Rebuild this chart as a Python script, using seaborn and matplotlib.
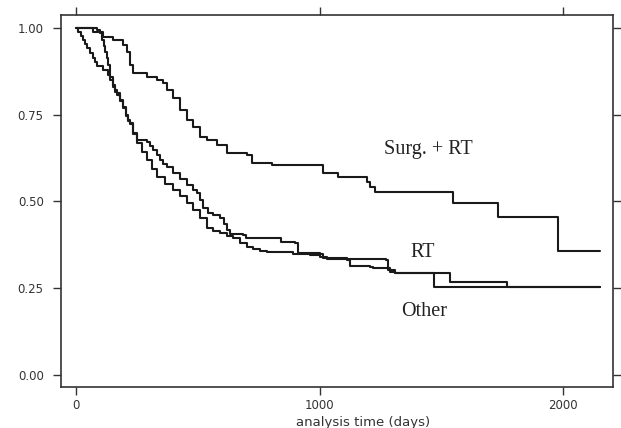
import matplotlib
matplotlib.use("Agg")
import matplotlib.pyplot as plt
import seaborn as sns
import pandas as pd

# ---- data (time in days, survival probability) ----
surg_t = [0, 70, 111, 152, 193, 209, 222, 234, 292, 333, 357, 374, 398, 427, 456, 480,
          509, 538, 579, 620, 702, 723, 805, 1014, 1076, 1195, 1207, 1228, 1548, 1733,
          1979, 2152]
surg_s = [1.000, 0.989, 0.975, 0.965, 0.951, 0.931, 0.893, 0.870, 0.859, 0.850, 0.841,
          0.821, 0.798, 0.764, 0.735, 0.715, 0.686, 0.677, 0.663, 0.640, 0.634, 0.611,
          0.605, 0.582, 0.571, 0.556, 0.542, 0.527, 0.496, 0.455, 0.357, 0.357]

rt_t = [0, 8, 21, 29, 37, 45, 57, 70, 78, 86, 111, 131, 140, 152, 160, 168, 181, 193,
        205, 214, 222, 234, 251, 292, 304, 316, 333, 345, 357, 374, 398, 427, 456, 480,
        497, 509, 522, 542, 563, 591, 608, 620, 632, 686, 698, 842, 899, 912, 1002,
        1014, 1113, 1273, 1281, 1310, 1536, 1770, 2152]
rt_s = [1.000, 0.988, 0.977, 0.965, 0.954, 0.942, 0.928, 0.914, 0.902, 0.890, 0.879,
        0.865, 0.850, 0.836, 0.821, 0.813, 0.793, 0.772, 0.749, 0.735, 0.726, 0.697,
        0.677, 0.671, 0.660, 0.648, 0.634, 0.620, 0.608, 0.599, 0.582, 0.565, 0.548,
        0.533, 0.524, 0.504, 0.481, 0.467, 0.461, 0.452, 0.435, 0.418, 0.406, 0.403,
        0.395, 0.383, 0.380, 0.352, 0.349, 0.337, 0.334, 0.331, 0.303, 0.294, 0.268,
        0.254, 0.254]

oth_t = [0, 86, 99, 107, 115, 119, 127, 131, 140, 152, 160, 168, 181, 193, 205, 214,
         222, 234, 251, 271, 292, 312, 333, 366, 398, 427, 456, 480, 509, 538, 563, 591,
         620, 645, 674, 702, 727, 756, 784, 891, 961, 1002, 1031, 1113, 1125, 1207,
         1220, 1290, 1310, 1470, 2152]
oth_s = [1.000, 0.994, 0.986, 0.965, 0.948, 0.931, 0.914, 0.893, 0.859, 0.830, 0.816,
         0.807, 0.790, 0.769, 0.746, 0.732, 0.723, 0.695, 0.669, 0.643, 0.620, 0.594,
         0.571, 0.550, 0.533, 0.516, 0.496, 0.476, 0.452, 0.424, 0.415, 0.409, 0.401,
         0.395, 0.380, 0.369, 0.363, 0.357, 0.354, 0.349, 0.346, 0.340, 0.334, 0.331,
         0.314, 0.311, 0.308, 0.297, 0.294, 0.254, 0.254]

group_names = ["Surg. + RT", "RT", "Other"]
label_pos = {"Surg. + RT": (1445, 0.648), "RT": (1425, 0.354), "Other": (1429, 0.182)}

x_ticks = [0, 1000, 2000]
y_ticks = [0.00, 0.25, 0.50, 0.75, 1.00]
x_label = "analysis time (days)"

# ---- build table ----
frames = []
for name, t, s in zip(group_names, [surg_t, rt_t, oth_t], [surg_s, rt_s, oth_s]):
    frames.append(pd.DataFrame({"time": t, "surv": s, "group": name}))
df = pd.concat(frames, ignore_index=True)

sns.set_style("white")
plt.rcParams["font.family"] = ["DejaVu Sans"]

fig = plt.figure(figsize=(6.21, 4.28), dpi=100)
ax = fig.add_axes([61 / 621, 1 - 387 / 428, (613 - 61) / 621, (387 - 15) / 428])

for name in group_names:
    sub = df[df["group"] == name]
    sns.lineplot(data=sub, x="time", y="surv", ax=ax, color="#1a1a1a", linewidth=1.5,
                 drawstyle="steps-post", estimator=None, sort=False, legend=False)

for name in group_names:
    x, y = label_pos[name]
    ax.text(x, y, name, ha="center", va="center", fontsize=14.5,
            family="Liberation Serif", color="#222222")

ax.set_xlim(-62, 2205)
ax.set_ylim(-0.035, 1.037)
ax.set_xticks(x_ticks)
ax.set_yticks(y_ticks)
ax.set_yticklabels([f"{v:.2f}" for v in y_ticks])
ax.set_xticklabels([str(v) for v in x_ticks])
ax.set_ylabel("")
ax.set_xlabel(x_label, fontsize=9.5, color="#333333")
ax.xaxis.set_label_coords(0.547, -0.078)

for sp in ax.spines.values():
    sp.set_visible(True)
    sp.set_color("#333333")
    sp.set_linewidth(1.2)

ax.tick_params(axis="both", which="both", direction="out", length=5.5, width=1.0,
               color="#333333", labelsize=8.5, labelcolor="#333333",
               top=True, right=True, bottom=True, left=True,
               labeltop=False, labelright=False)
ax.tick_params(axis="y", pad=7)
ax.tick_params(axis="x", pad=3)

fig.savefig("out.png", dpi=100, facecolor="white")
